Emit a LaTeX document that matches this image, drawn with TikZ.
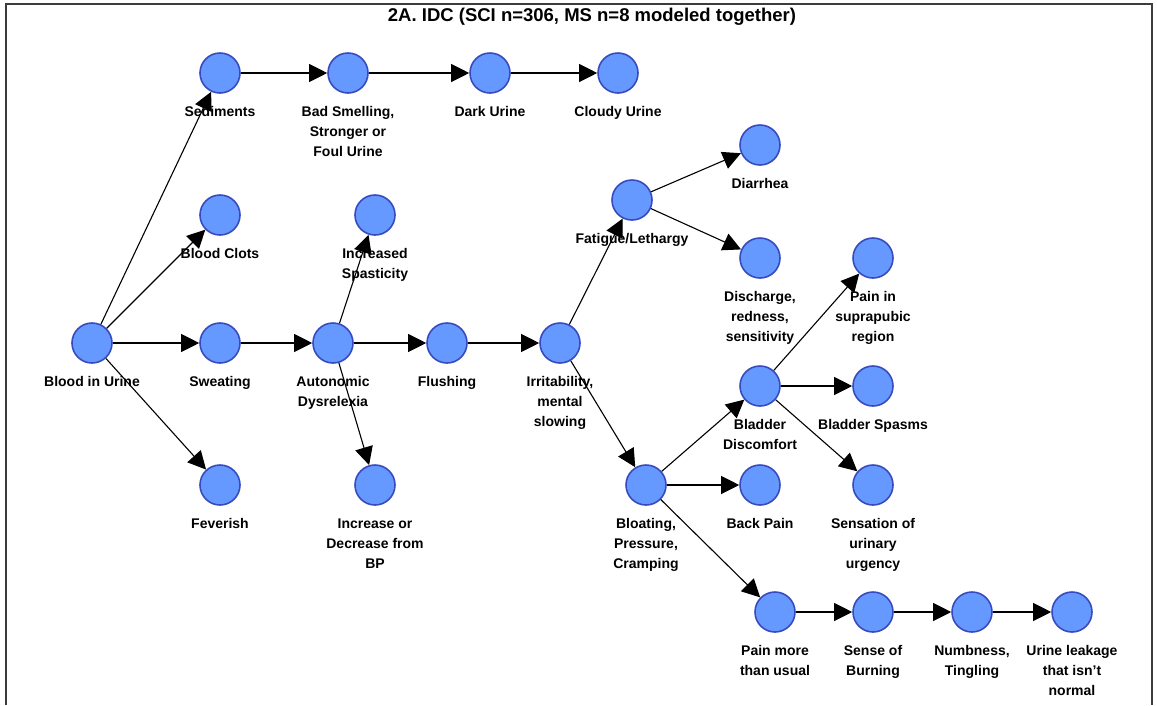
\documentclass[tikz,border=0pt]{standalone}
\usepackage{fontspec}
\defaultfontfeatures{}
\setmainfont{Liberation Sans}
\usetikzlibrary{arrows.meta}
\usetikzlibrary{positioning}

\definecolor{symfill}{RGB}{102,153,255}
\definecolor{symedge}{RGB}{55,75,190}
\definecolor{framegray}{RGB}{60,60,60}

\tikzset{
  lbl/.style={font=\bfseries\fontsize{14}{20}\selectfont, align=center, inner sep=0pt},
  sym/.style={circle, draw=symedge, fill=symfill, line width=1.6pt,
    minimum size=40pt, inner sep=0pt,
    label={[lbl,label distance=12.5pt]below:{#1}}},
  >={Triangle[length=18pt,width=18pt]},
  every edge/.style={draw, line width=1.1pt}
}

\begin{document}
\begin{tikzpicture}[x=1pt,y=1pt]
            \useasboundingbox (0,0) rectangle (1157,-705);
            \draw[framegray, line width=1.5pt] (6,-705) -- (6,-4) -- (1152,-4) -- (1152,-705);
            \node[font=\bfseries\fontsize{18.5}{20}\selectfont] (T) at (592,-17) {2A. IDC (SCI n=306, MS n=8 modeled together)};
            % row of urine signs
            \node[sym={Sediments}] (SD) at (220,-73) {};
            \node[sym={Bad Smelling,\\Stronger or\\Foul Urine}] (BS) at (348,-73) {};
            \node[sym={Dark Urine}] (DU) at (490,-73) {};
            \node[sym={Cloudy Urine}] (CU) at (618,-73) {};
            \node[sym={Blood Clots}] (BC) at (220,-215) {};
            \node[sym={Increased\\Spasticity}] (IS) at (375,-215) {};
            \node[sym={Diarrhea}] (DI) at (760,-145) {};
            \node[sym={Fatigue/Lethargy}] (FA) at (632,-200) {};
            \node[sym={Discharge,\\redness,\\sensitivity}] (DC) at (760,-258) {};
            \node[sym={Pain in\\suprapubic\\region}] (PS) at (873,-258) {};
            % main row
            \node[sym={Blood in Urine}] (BU) at (92,-343) {};
            \node[sym={Sweating}] (SW) at (220,-343) {};
            \node[sym={Autonomic\\Dysrelexia}] (AD) at (333,-343) {};
            \node[sym={Flushing}] (FL) at (447,-343) {};
            \node[sym={Irritability,\\mental\\slowing}] (IR) at (560,-343) {};
            \node[sym={Bladder\\Discomfort}] (BD) at (760,-386) {};
            \node[sym={Bladder Spasms}] (SP) at (873,-386) {};
            \node[sym={Feverish}] (FV) at (220,-485) {};
            \node[sym={Increase or\\Decrease from\\BP}] (BP) at (375,-485) {};
            \node[sym={Bloating,\\Pressure,\\Cramping}] (BL) at (646,-485) {};
            \node[sym={Back Pain}] (BK) at (760,-485) {};
            \node[sym={Sensation of\\urinary\\urgency}] (SU) at (873,-485) {};
            % bottom row
            \node[sym={Pain more\\than usual}] (PM) at (775,-612) {};
            \node[sym={Sense of\\Burning}] (SB) at (873,-612) {};
            \node[sym={Numbness,\\Tingling}] (NT) at (972,-612) {};
            \node[sym={Urine leakage\\that isn't\\normal}] (UL) at (1072,-612) {};
    	    \path[->] (BU) edge (SD);
    	    \path[->] (BU) edge (BC);
    	    \path[->] (BU) edge (SW);
    	    \path[->] (BU) edge (FV);
    	    \path[->] (SD) edge (BS);
    	    \path[->] (BS) edge (DU);
    	    \path[->] (DU) edge (CU);
    	    \path[->] (SW) edge (AD);
    	    \path[->] (AD) edge (IS);
    	    \path[->] (AD) edge (FL);
    	    \path[->] (AD) edge (BP);
    	    \path[->] (FL) edge (IR);
    	    \path[->] (IR) edge (FA);
    	    \path[->] (IR) edge (BL);
    	    \path[->] (FA) edge (DI);
    	    \path[->] (FA) edge (DC);
    	    \path[->] (BL) edge (BD);
    	    \path[->] (BL) edge (BK);
    	    \path[->] (BL) edge (PM);
    	    \path[->] (BD) edge (PS);
    	    \path[->] (BD) edge (SP);
    	    \path[->] (BD) edge (SU);
    	    \path[->] (PM) edge (SB);
    	    \path[->] (SB) edge (NT);
    	    \path[->] (NT) edge (UL);
	    \end{tikzpicture}
\end{document}
